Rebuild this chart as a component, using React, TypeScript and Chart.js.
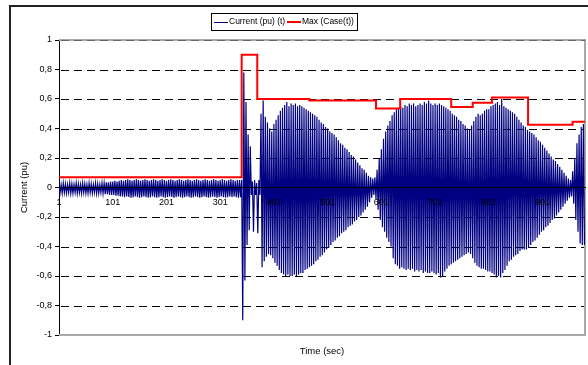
import { useEffect, useRef } from 'react';
import { Chart, registerables } from 'chart.js';

Chart.register(...registerables);

// Positive peak of each oscillation cycle (one cycle = 4 samples)
const upperPeaks = [
  0.025, 0.02, 0.03, 0.025, 0.02, 0.03, 0.025, 0.02, 0.03, 0.025,
  0.02, 0.03, 0.025, 0.02, 0.03, 0.025, 0.02, 0.03, 0.025, 0.02,
  0.03, 0.03, 0.035, 0.035, 0.04, 0.04, 0.045, 0.04, 0.045, 0.05,
  0.045, 0.05, 0.055, 0.05, 0.045, 0.05, 0.055, 0.05, 0.045, 0.05,
  0.055, 0.05, 0.045, 0.05, 0.055, 0.05, 0.045, 0.05, 0.055, 0.05,
  0.045, 0.05, 0.055, 0.05, 0.045, 0.05, 0.055, 0.05, 0.045, 0.05,
  0.055, 0.05, 0.045, 0.05, 0.055, 0.05, 0.045, 0.05, 0.055, 0.05,
  0.045, 0.05, 0.055, 0.05, 0.045, 0.05, 0.055, 0.05, 0.045, 0.05,
  0.055, 0.05, 0.045, 0.05, 0.05, 0.05, 0.78, 0.58, 0.36, 0.28,
  0.04, 0.05, 0.03, 0.05, 0.5, 0.59, 0.48, 0.44, 0.4, 0.38,
  0.43, 0.46, 0.49, 0.52, 0.54, 0.56, 0.58, 0.55, 0.57, 0.56,
  0.57, 0.55, 0.56, 0.55, 0.54, 0.53, 0.52, 0.51, 0.5, 0.49,
  0.48, 0.46, 0.44, 0.43, 0.41, 0.4, 0.38, 0.37, 0.36, 0.34,
  0.32, 0.3, 0.29, 0.27, 0.26, 0.24, 0.22, 0.21, 0.19, 0.17,
  0.15, 0.13, 0.12, 0.1, 0.08, 0.07, 0.06, 0.07, 0.12, 0.2,
  0.26, 0.33, 0.38, 0.42, 0.45, 0.49, 0.51, 0.53, 0.54, 0.55,
  0.54, 0.56, 0.55, 0.57, 0.56, 0.57, 0.55, 0.56, 0.57, 0.56,
  0.58, 0.57, 0.59, 0.57, 0.56, 0.57, 0.56, 0.57, 0.56, 0.55,
  0.54, 0.53, 0.52, 0.5, 0.49, 0.48, 0.46, 0.45, 0.43, 0.42,
  0.4, 0.39, 0.42, 0.45, 0.48, 0.5, 0.49, 0.5, 0.52, 0.53,
  0.53, 0.55, 0.56, 0.57, 0.58, 0.56, 0.6, 0.55, 0.54, 0.53,
  0.52, 0.51, 0.5, 0.48, 0.46, 0.44, 0.42, 0.41, 0.39, 0.38,
  0.37, 0.36, 0.34, 0.32, 0.31, 0.29, 0.27, 0.25, 0.23, 0.21,
  0.19, 0.18, 0.16, 0.14, 0.12, 0.1, 0.08, 0.06, 0.05, 0.11,
  0.2, 0.3, 0.36, 0.41, 0.43,
];

// Negative peak of each oscillation cycle
const lowerPeaks = [
  -0.035, -0.04, -0.035, -0.04, -0.035, -0.04, -0.04, -0.035, -0.04, -0.035,
  -0.04, -0.035, -0.04, -0.04, -0.035, -0.04, -0.035, -0.04, -0.04, -0.035,
  -0.04, -0.045, -0.045, -0.05, -0.05, -0.05, -0.055, -0.055, -0.06, -0.06,
  -0.065, -0.06, -0.065, -0.07, -0.065, -0.06, -0.065, -0.07, -0.065, -0.06,
  -0.065, -0.07, -0.065, -0.06, -0.065, -0.07, -0.065, -0.06, -0.065, -0.07,
  -0.065, -0.06, -0.065, -0.07, -0.065, -0.06, -0.065, -0.07, -0.065, -0.06,
  -0.065, -0.07, -0.065, -0.06, -0.065, -0.07, -0.065, -0.06, -0.065, -0.07,
  -0.065, -0.06, -0.065, -0.07, -0.065, -0.06, -0.065, -0.07, -0.065, -0.06,
  -0.065, -0.06, -0.065, -0.07, -0.065, -0.9, -0.63, -0.39, -0.29, -0.05,
  -0.3, -0.05, -0.31, -0.05, -0.54, -0.5, -0.47, -0.45, -0.46, -0.48,
  -0.51, -0.53, -0.56, -0.58, -0.59, -0.6, -0.59, -0.6, -0.6, -0.59,
  -0.6, -0.59, -0.58, -0.58, -0.56, -0.55, -0.54, -0.53, -0.52, -0.5,
  -0.49, -0.47, -0.46, -0.44, -0.42, -0.41, -0.39, -0.37, -0.36, -0.34,
  -0.33, -0.31, -0.3, -0.29, -0.27, -0.26, -0.25, -0.23, -0.22, -0.2,
  -0.19, -0.17, -0.15, -0.13, -0.1, -0.07, -0.05, -0.08, -0.15, -0.22,
  -0.27, -0.3, -0.34, -0.37, -0.4, -0.48, -0.52, -0.53, -0.55, -0.54,
  -0.55, -0.56, -0.55, -0.56, -0.55, -0.57, -0.56, -0.57, -0.56, -0.58,
  -0.57, -0.58, -0.58, -0.57, -0.58, -0.59, -0.58, -0.61, -0.6, -0.57,
  -0.55, -0.53, -0.52, -0.51, -0.5, -0.49, -0.48, -0.47, -0.46, -0.45,
  -0.44, -0.45, -0.48, -0.51, -0.53, -0.54, -0.55, -0.55, -0.56, -0.57,
  -0.57, -0.58, -0.59, -0.61, -0.6, -0.61, -0.58, -0.56, -0.53, -0.5,
  -0.49, -0.47, -0.46, -0.45, -0.43, -0.42, -0.42, -0.42, -0.41, -0.39,
  -0.37, -0.36, -0.34, -0.32, -0.3, -0.29, -0.27, -0.26, -0.24, -0.22,
  -0.21, -0.19, -0.17, -0.15, -0.13, -0.11, -0.09, -0.07, -0.06, -0.11,
  -0.22, -0.3, -0.38, -0.39, -0.39,
];

// Max (Case(t)) step changes
const maxStepX = [1, 341, 370, 467, 591, 636, 731, 771, 807, 874, 957, 980];
const maxStepY = [0.07, 0.9, 0.6, 0.59, 0.535, 0.6, 0.545, 0.575, 0.61, 0.425, 0.445, 0.445];

const xTickValues = [1, 101, 201, 301, 401, 501, 601, 701, 801, 901];
const yTickValues = [-1, -0.8, -0.6, -0.4, -0.2, 0, 0.2, 0.4, 0.6, 0.8, 1];
const seriesNames = ['Current (pu) (t)', 'Max (Case(t))'];
const xTitle = 'Time (sec)';
const yTitle = 'Current (pu)';

const FONT = '"Liberation Sans", Arial, Helvetica, sans-serif';
const BLUE = '#000080';
const RED = '#ff0000';

export default function App() {
  const ref = useRef<HTMLCanvasElement>(null);

  useEffect(() => {
    const canvas = ref.current;
    if (!canvas) return;

    const currentData: { x: number; y: number }[] = [];
    upperPeaks.forEach((u, k) => {
      currentData.push({ x: 1 + 4 * k, y: u });
      currentData.push({ x: 3 + 4 * k, y: lowerPeaks[k] });
    });
    const maxData = maxStepX.map((x, i) => ({ x, y: maxStepY[i] }));

    const decor = {
      id: 'decor',
      beforeDatasetsDraw(chart: any) {
        const { ctx, chartArea: a, scales } = chart;
        const y = scales.y;
        ctx.save();
        // dashed gridlines
        ctx.strokeStyle = '#000';
        ctx.lineWidth = 1;
        ctx.setLineDash([8, 5]);
        yTickValues.forEach((v) => {
          if (v === 0 || v === 1 || v === -1) return;
          const py = Math.round(y.getPixelForValue(v)) + 0.5;
          ctx.beginPath();
          ctx.moveTo(a.left + 2, py);
          ctx.lineTo(a.right, py);
          ctx.stroke();
        });
        ctx.setLineDash([]);
        // plot-area border (grey)
        ctx.strokeStyle = '#a8a8a8';
        ctx.lineWidth = 2;
        const top = Math.round(y.getPixelForValue(1));
        const bot = Math.round(y.getPixelForValue(-1));
        ctx.beginPath();
        ctx.moveTo(a.left, top);
        ctx.lineTo(a.right, top);
        ctx.lineTo(a.right, bot);
        ctx.lineTo(a.left, bot);
        ctx.stroke();
        ctx.strokeStyle = '#666';
        ctx.lineWidth = 1;
        ctx.setLineDash([8, 5]);
        ctx.beginPath();
        ctx.moveTo(a.left + 2, top + 0.5);
        ctx.lineTo(a.right, top + 0.5);
        ctx.stroke();
        ctx.restore();
      },
      afterDraw(chart: any) {
        const { ctx, chartArea: a } = chart;
        ctx.save();
        // outer chart border
        ctx.strokeStyle = '#222';
        ctx.lineWidth = 2;
        ctx.strokeRect(10, 6, 640, 420);

        // legend
        ctx.fillStyle = '#fff';
        ctx.fillRect(211, 13, 146, 18);
        ctx.strokeStyle = '#000';
        ctx.lineWidth = 1;
        ctx.strokeRect(211.5, 13.5, 146, 17);
        ctx.strokeStyle = BLUE;
        ctx.lineWidth = 1;
        ctx.beginPath();
        ctx.moveTo(214, 22.5);
        ctx.lineTo(228, 22.5);
        ctx.stroke();
        ctx.strokeStyle = RED;
        ctx.lineWidth = 2;
        ctx.beginPath();
        ctx.moveTo(287, 22);
        ctx.lineTo(301, 22);
        ctx.stroke();
        ctx.fillStyle = '#000';
        ctx.font = `8.5px ${FONT}`;
        ctx.textBaseline = 'middle';
        ctx.textAlign = 'left';
        ctx.fillText(seriesNames[0], 229, 22);
        ctx.fillText(seriesNames[1], 302, 22);

        // axis titles
        ctx.font = `9.5px ${FONT}`;
        ctx.textAlign = 'center';
        ctx.fillText(xTitle, (a.left + a.right) / 2, 351);
        ctx.translate(24.5, (a.top + a.bottom) / 2);
        ctx.rotate(-Math.PI / 2);
        ctx.fillText(yTitle, 0, 0);
        ctx.restore();
      },
    };

    const chart = new Chart(canvas, {
      type: 'line',
      data: {
        datasets: [
          {
            label: seriesNames[0],
            data: currentData,
            borderColor: BLUE,
            backgroundColor: BLUE,
            borderWidth: 1.2,
            pointRadius: 0,
            tension: 0,
            order: 1,
          },
          {
            label: seriesNames[1],
            data: maxData,
            borderColor: RED,
            backgroundColor: RED,
            borderWidth: 2,
            pointRadius: 0,
            stepped: true,
            order: 0,
          },
        ],
      },
      options: {
        animation: false,
        responsive: false,
        events: [],
        layout: { padding: { left: 0, right: 3, top: 40, bottom: 30 } },
        plugins: {
          legend: { display: false },
          tooltip: { enabled: false },
        },
        scales: {
          x: {
            type: 'linear',
            min: 1,
            max: 980,
            position: { y: 0 },
            grid: { display: false, drawTicks: false },
            border: { display: true, color: '#000', width: 1, z: 1 },
            afterBuildTicks: (s: any) => {
              s.ticks = xTickValues.map((v) => ({ value: v }));
            },
            ticks: {
              z: 1,
              autoSkip: false,
              maxRotation: 0,
              minRotation: 0,
              padding: 10,
              color: '#000',
              font: { family: FONT, size: 9 },
              callback: (v: any) => String(v),
            },
          },
          y: {
            type: 'linear',
            min: -1,
            max: 1,
            position: 'left',
            afterFit: (s: any) => {
              s.width = 59;
            },
            afterBuildTicks: (s: any) => {
              s.ticks = yTickValues.map((v) => ({ value: v }));
            },
            grid: {
              display: true,
              drawOnChartArea: false,
              drawTicks: true,
              tickLength: 4,
              color: '#000',
            },
            border: { display: true, color: '#000', width: 1 },
            ticks: {
              padding: 3,
              color: '#000',
              font: { family: FONT, size: 9 },
              callback: (v: any) => String(Math.round(Number(v) * 10) / 10).replace('.', ','),
            },
          },
        },
      },
      plugins: [decor],
    } as any);

    return () => chart.destroy();
  }, []);

  return (
    <div style={{ position: 'absolute', left: 0, top: 0, width: 588, height: 365, background: '#fff', overflow: 'hidden' }}>
      <canvas ref={ref} width={588} height={365} style={{ display: 'block', width: 588, height: 365 }} />
    </div>
  );
}
